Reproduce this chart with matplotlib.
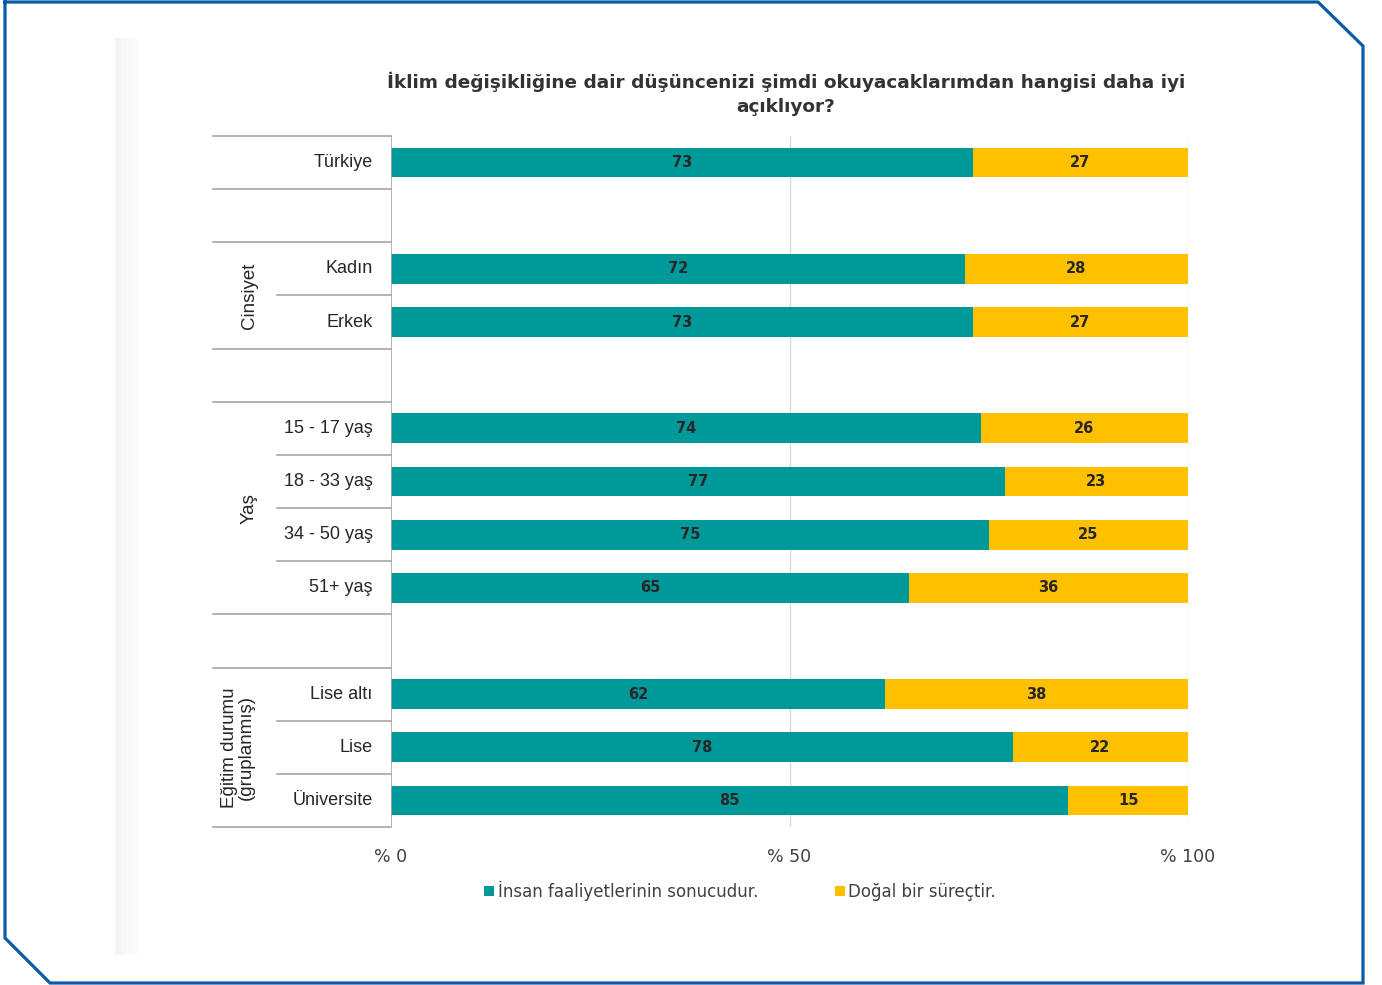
import numpy as np
import matplotlib.pyplot as plt
from matplotlib.lines import Line2D
from matplotlib.patches import Rectangle

# data
title = "İklim değişikliğine dair düşüncenizi şimdi okuyacaklarımdan hangisi daha iyi\naçıklıyor?"
groups = ["", "Cinsiyet", "Yaş", "Eğitim durumu\n(gruplanmış)"]
categories = ["Türkiye", "Kadın", "Erkek", "15 - 17 yaş", "18 - 33 yaş",
              "34 - 50 yaş", "51+ yaş", "Lise altı", "Lise", "Üniversite"]
group_of = [0, 1, 1, 2, 2, 2, 2, 3, 3, 3]
insan = [73, 72, 73, 74, 77, 75, 65, 62, 78, 85]
dogal = [27, 28, 27, 26, 23, 25, 36, 38, 22, 15]
series_names = ["İnsan faaliyetlerinin sonucudur.", "Doğal bir süreçtir."]
xticks = [0, 50, 100]
xticklabels = ["% 0", "% 50", "% 100"]

TEAL = "#009999"
YELLOW = "#ffc000"
FRAME = "#0b5aaa"
LINE = "#a6a6a6"

cond = ["DejaVu Sans"]
plain = ["Liberation Sans", "DejaVu Sans"]

W, H = 1382, 985
fig = plt.figure(figsize=(W / 100, H / 100), dpi=100)

def px(x, y):
    return x / W, 1 - y / H

# frame with cut corners
fx = [5, 1318, 1363, 1363, 50, 5, 5]
fy = [2, 2, 46, 983, 983, 938, 2]
fig.add_artist(Line2D([x / W for x in fx], [1 - y / H for y in fy],
                      transform=fig.transFigure, color=FRAME, lw=2.3,
                      solid_joinstyle="miter"))
# faint page shadow on the left
for i, c in enumerate(["#f4f4f4", "#f7f7f7", "#fafafa", "#fcfcfc"]):
    fig.add_artist(Rectangle(px(115 + i * 6, 955), 6 / W, (955 - 38) / H,
                             transform=fig.transFigure, color=c, lw=0))

ax = fig.add_axes([391 / W, 1 - 827 / H, (1188 - 391) / W, (827 - 136) / H])

ypos = np.array([i + g for i, g in enumerate(group_of)])
ax.set_xlim(0, 100)
ax.set_ylim(12.5, -0.5)

for x in [50, 100]:
    ax.axvline(x, color="#d9d9d9", lw=1, zorder=0)
ax.axvline(0, color=LINE, lw=1.2, zorder=3)

h = 0.56
ax.barh(ypos, insan, height=h, color=TEAL, zorder=2, label=series_names[0])
ax.barh(ypos, dogal, left=insan, height=h, color=YELLOW, zorder=2,
        label=series_names[1])

for y, a, b in zip(ypos, insan, dogal):
    ax.text(a / 2, y, str(a), ha="center", va="center", fontsize=10.5,
            fontweight="bold", color="#262626", family=cond, zorder=4)
    ax.text(a + min(b, 100 - a) / 2, y, str(b), ha="center", va="center",
            fontsize=10.5, fontweight="bold", color="#262626", family=cond,
            zorder=4)

# table on the left
x_full, x_part = -22.3, -14.3
for g in range(len(groups)):
    rows = ypos[np.array(group_of) == g]
    for yy in [rows.min() - 0.5, rows.max() + 0.5]:
        ax.plot([x_full, 0], [yy, yy], color=LINE, lw=1.2, clip_on=False)
    for yy in rows[:-1] + 0.5:
        ax.plot([x_part, 0], [yy, yy], color=LINE, lw=1.2, clip_on=False)
    if groups[g]:
        gx = -19.2 if "\n" in groups[g] else -17.8
        ax.text(gx, rows.mean(), groups[g], rotation=90, ha="center",
                va="center", fontsize=13.5, color="#262626", family=plain,
                linespacing=0.95)

for y, lab in zip(ypos, categories):
    ax.text(-2.3, y, lab, ha="right", va="center", fontsize=13,
            color="#262626", family=plain)

ax.set_yticks([])
ax.set_xticks(xticks)
ax.set_xticklabels(xticklabels, family=cond, fontsize=12.5, color="#404040")
ax.tick_params(axis="x", length=0, pad=15)
for s in ax.spines.values():
    s.set_visible(False)

fig.text(*px(786, 94), title, ha="center", va="center", fontsize=13.3,
         fontweight="bold", color="#333333", family=cond, linespacing=1.45)

ax.legend(loc="center", bbox_to_anchor=px(740, 891),
          bbox_transform=fig.transFigure, ncol=2, frameon=False,
          handlelength=0.6, handleheight=0.6, handletextpad=0.2,
          columnspacing=4.6, prop={"family": cond, "size": 12},
          labelcolor="#404040")

fig.savefig("out.png", dpi=100)
